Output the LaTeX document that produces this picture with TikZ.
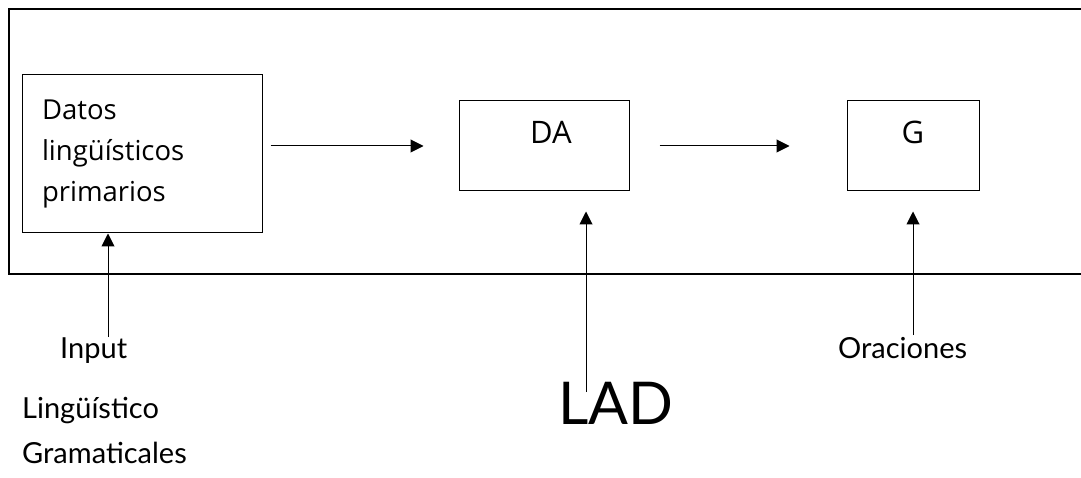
\documentclass[tikz,border=0pt]{standalone}
\usepackage{fontspec}
\usepackage{tikz}
\usetikzlibrary{arrows.meta}
\newfontfamily\boxfont{Open Sans}
\newfontfamily\labfont{Lato}

\tikzset{
  caja/.style={draw, thick, line width=1pt, rectangle, font=\boxfont},
  etiq/.style={anchor=base west, inner sep=0pt, font=\labfont\fontsize{29}{29}\selectfont},
  flecha/.style={line width=1pt, -{Triangle[length=13pt,width=13pt]}}
}

\begin{document}
\begin{tikzpicture}[x=1pt,y=-1pt]
\useasboundingbox (0,0) rectangle (1081,478);

% marco exterior
\draw[line width=1.3pt] (1081,9) -- (9,9) -- (9,274) -- (1081,274);

\begin{scope}[every node/.style={caja}]
\node (datos) at (142,154) [minimum width=240pt, minimum height=158pt, text width=200pt, inner xsep=20pt, align=left,
  font=\boxfont\fontsize{27.5}{41}\selectfont] {Datos\\ lingüísticos\\ primarios};
\node (da) at (544,146) [minimum width=170pt, minimum height=90pt, text height=22pt, text depth=26pt,
  font=\boxfont\fontsize{31}{31}\selectfont] {\hspace*{14pt}DA};
\node (g) at (913,146) [minimum width=132pt, minimum height=90pt, text height=22pt, text depth=26pt,
  font=\boxfont\fontsize{31}{31}\selectfont] {G};
\end{scope}

\node[etiq] (input) at (60,358) {Input};
\node[etiq] (ling) at (22,418) {Lingüístico};
\node[etiq] (gram) at (22,463) {Gramaticales};
\node[etiq, font=\labfont\fontsize{59}{59}\selectfont] (lad) at (558,424) {LAD};
\node[etiq] (orac) at (838,358) {Oraciones};

\coordinate (inpie) at (108,337);
\coordinate (ladpie) at (586,392);
\coordinate (orpie) at (913,335);

\draw[flecha, shorten <=8pt, shorten >=35pt] (datos.east |- da.west) -- (da.west);
\draw[flecha, shorten <=30pt, shorten >=57pt] (da.east) -- (g.west);

\draw[flecha] (inpie) -- (inpie |- datos.south);
\draw[flecha, shorten >=20pt] (ladpie) -- (ladpie |- da.south);
\draw[flecha, shorten >=20pt] (orpie) -- (g.south);

\end{tikzpicture}
\end{document}
